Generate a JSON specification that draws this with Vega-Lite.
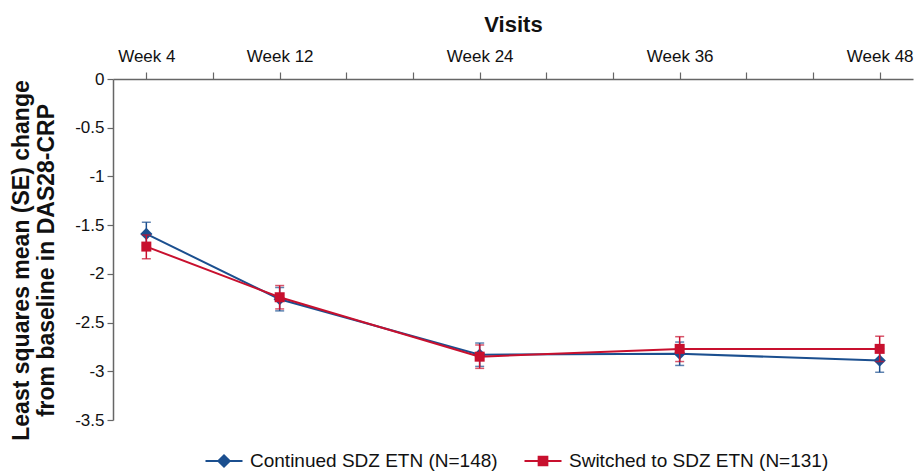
{
  "$schema": "https://vega.github.io/schema/vega-lite/v6.json",
  "width": 800,
  "height": 341,
  "autosize": "none",
  "padding": {"left": 113, "top": 79, "right": 3, "bottom": 51},
  "background": "white",
  "config": {
    "view": {"stroke": null},
    "font": "Liberation Sans",
    "legend": {"symbolOpacity": 1},
    "axis": {"grid": false, "domainColor": "#666666", "tickColor": "#666666", "domainWidth": 1.5, "tickWidth": 1.2, "labelColor": "#111111", "titleColor": "#111111", "labelFont": "Liberation Sans", "titleFont": "Liberation Sans"},
    "axisY": {"titleFontSize": 23, "titleFontWeight": "bold", "titlePadding": 16, "labelFontSize": 17, "tickSize": 6, "labelPadding": 3, "titleLineHeight": 25, "titleY": 181}
  },
  "data": {
    "values": [
      {"series": "Continued SDZ ETN (N=148)", "week": 4, "mean": -1.59, "lo": -1.71, "hi": -1.47},
      {"series": "Continued SDZ ETN (N=148)", "week": 12, "mean": -2.26, "lo": -2.38, "hi": -2.14},
      {"series": "Continued SDZ ETN (N=148)", "week": 24, "mean": -2.83, "lo": -2.95, "hi": -2.71},
      {"series": "Continued SDZ ETN (N=148)", "week": 36, "mean": -2.82, "lo": -2.94, "hi": -2.70},
      {"series": "Continued SDZ ETN (N=148)", "week": 48, "mean": -2.89, "lo": -3.01, "hi": -2.77},
      {"series": "Switched to SDZ ETN (N=131)", "week": 4, "mean": -1.72, "lo": -1.845, "hi": -1.60},
      {"series": "Switched to SDZ ETN (N=131)", "week": 12, "mean": -2.24, "lo": -2.36, "hi": -2.12},
      {"series": "Switched to SDZ ETN (N=131)", "week": 24, "mean": -2.85, "lo": -2.97, "hi": -2.73},
      {"series": "Switched to SDZ ETN (N=131)", "week": 36, "mean": -2.77, "lo": -2.90, "hi": -2.645},
      {"series": "Switched to SDZ ETN (N=131)", "week": 48, "mean": -2.77, "lo": -2.90, "hi": -2.64}
    ]
  },
  "encoding": {
    "x": {
      "field": "week", "type": "quantitative",
      "scale": {"domain": [2, 50], "nice": false, "zero": false},
      "axis": {
        "orient": "top", "title": "Visits", "titleFontSize": 22, "titleFontWeight": "bold", "titlePadding": 11,
        "values": [4, 8, 12, 16, 20, 24, 28, 32, 36, 40, 44, 48],
        "labelExpr": "indexof([4,12,24,36,48], datum.value) >= 0 ? 'Week ' + datum.value : ''",
        "labelFontSize": 17, "tickSize": 7, "labelPadding": 7, "labelFlush": false
      }
    }
  },
  "layer": [
    {
      "transform": [{"filter": "datum.week < 0"}],
      "mark": {"type": "point", "filled": true, "strokeWidth": 2, "opacity": 1, "fillOpacity": 1, "strokeOpacity": 1},
      "encoding": {
        "y": {"field": "mean", "type": "quantitative", "scale": {"domain": [-3.5, 0], "nice": false, "zero": false},
          "axis": {"title": ["Least squares mean (SE) change", "from baseline in DAS28-CRP"], "values": [0, -0.5, -1, -1.5, -2, -2.5, -3, -3.5], "labelExpr": "toString(datum.value)"}},
        "opacity": {"value": 1},
        "color": {"field": "series", "type": "nominal", "scale": {"domain": ["Continued SDZ ETN (N=148)", "Switched to SDZ ETN (N=131)"], "range": ["#1b4f8f", "#c8102e"]},
          "legend": {"orient": "none", "legendX": 91, "legendY": 362, "direction": "horizontal", "title": null, "labelFontSize": 19, "labelLimit": 400, "labelColor": "#111111", "symbolSize": 1369, "symbolStrokeWidth": 2.2, "symbolOpacity": 1, "columnPadding": 22, "labelOffset": 6}},
        "stroke": {"field": "series", "type": "nominal", "scale": {"domain": ["Continued SDZ ETN (N=148)", "Switched to SDZ ETN (N=131)"], "range": ["#1b4f8f", "#c8102e"]}},
        "shape": {"field": "series", "type": "nominal", "scale": {"domain": ["Continued SDZ ETN (N=148)", "Switched to SDZ ETN (N=131)"], "range": ["M-1,0H1M0,-0.3L0.3,0L0,0.3L-0.3,0Z", "M-1,0H1M-0.23,-0.23H0.23V0.23H-0.23Z"]}}
      }
    },
    {
      "transform": [{"filter": "datum.series == 'Continued SDZ ETN (N=148)'"}],
      "mark": {"type": "errorbar", "ticks": {"size": 9}, "thickness": 1.5},
      "encoding": {
        "y": {"field": "lo", "type": "quantitative", "axis": {"title": ["Least squares mean (SE) change", "from baseline in DAS28-CRP"], "values": [0, -0.5, -1, -1.5, -2, -2.5, -3, -3.5], "labelExpr": "toString(datum.value)"}},
        "y2": {"field": "hi"},
        "color": {"field": "series", "type": "nominal"}
      }
    },
    {
      "transform": [{"filter": "datum.series == 'Continued SDZ ETN (N=148)'"}],
      "mark": {"type": "line", "strokeWidth": 2},
      "encoding": {
        "y": {"field": "mean", "type": "quantitative", "axis": {"title": ["Least squares mean (SE) change", "from baseline in DAS28-CRP"], "values": [0, -0.5, -1, -1.5, -2, -2.5, -3, -3.5], "labelExpr": "toString(datum.value)"}},
        "color": {"field": "series", "type": "nominal"}
      }
    },
    {
      "transform": [{"filter": "datum.series == 'Continued SDZ ETN (N=148)'"}],
      "mark": {"type": "point", "shape": "diamond", "filled": true, "size": 150, "opacity": 1},
      "encoding": {
        "y": {"field": "mean", "type": "quantitative", "axis": {"title": ["Least squares mean (SE) change", "from baseline in DAS28-CRP"], "values": [0, -0.5, -1, -1.5, -2, -2.5, -3, -3.5], "labelExpr": "toString(datum.value)"}},
        "color": {"field": "series", "type": "nominal"}
      }
    },
    {
      "transform": [{"filter": "datum.series == 'Switched to SDZ ETN (N=131)'"}],
      "mark": {"type": "errorbar", "ticks": {"size": 9}, "thickness": 1.5},
      "encoding": {
        "y": {"field": "lo", "type": "quantitative", "axis": {"title": ["Least squares mean (SE) change", "from baseline in DAS28-CRP"], "values": [0, -0.5, -1, -1.5, -2, -2.5, -3, -3.5], "labelExpr": "toString(datum.value)"}},
        "y2": {"field": "hi"},
        "color": {"field": "series", "type": "nominal"}
      }
    },
    {
      "transform": [{"filter": "datum.series == 'Switched to SDZ ETN (N=131)'"}],
      "mark": {"type": "line", "strokeWidth": 2},
      "encoding": {
        "y": {"field": "mean", "type": "quantitative", "axis": {"title": ["Least squares mean (SE) change", "from baseline in DAS28-CRP"], "values": [0, -0.5, -1, -1.5, -2, -2.5, -3, -3.5], "labelExpr": "toString(datum.value)"}},
        "color": {"field": "series", "type": "nominal"}
      }
    },
    {
      "transform": [{"filter": "datum.series == 'Switched to SDZ ETN (N=131)'"}],
      "mark": {"type": "point", "shape": "square", "filled": true, "size": 100, "opacity": 1},
      "encoding": {
        "y": {"field": "mean", "type": "quantitative", "axis": {"title": ["Least squares mean (SE) change", "from baseline in DAS28-CRP"], "values": [0, -0.5, -1, -1.5, -2, -2.5, -3, -3.5], "labelExpr": "toString(datum.value)"}},
        "color": {"field": "series", "type": "nominal"}
      }
    }
  ]
}
